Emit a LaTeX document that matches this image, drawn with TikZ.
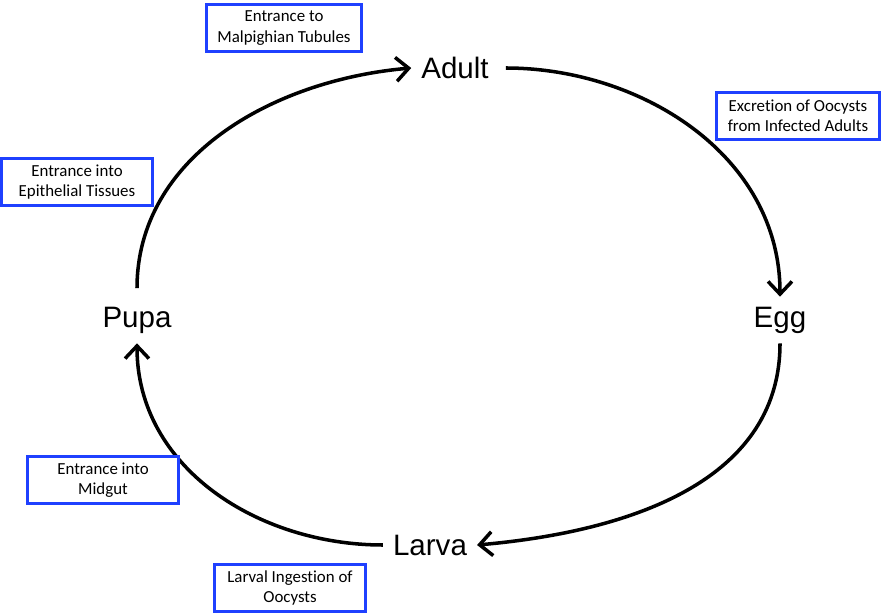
\documentclass[tikz,border=0pt]{standalone}
\usepackage{fontspec}
\setmainfont{Liberation Sans}
\newfontfamily\notefont[Ligatures=NoCommon]{Carlito}
\usepackage{tikz}
\usetikzlibrary{arrows.meta}

\definecolor{noteblue}{RGB}{31,64,255}

\tikzset{
    stage/.style={font=\fontsize{21}{25}\selectfont, inner sep=7pt},
    note/.style={draw=noteblue, line width=2pt, align=center, fill=white,
        font=\notefont\fontsize{12}{14.4}\selectfont,
        inner xsep=8pt, inner ysep=3pt, minimum width=107pt, minimum height=33pt},
    cycle/.style={line width=2.5pt, -{Straight Barb[length=9pt,width=17pt,line width=2.5pt]}}
}

\begin{document}
\begin{tikzpicture}

            \useasboundingbox (0,0) rectangle (22.15,15.375);

            % life stages
            \node[stage] (adult) at (11.375, 13.675) {Adult};
            \node[stage] (egg)   at (19.5, 7.375)    {Egg};
            \node[stage] (larva) at (10.75, 1.75)    {Larva};
            \node[stage] (pupa)  at (3.425, 7.375)   {Pupa};

            % the cycle
            \draw[cycle, shorten <=6pt] (pupa.north) to[out=90, in=185] (adult.west);
            \draw[cycle, shorten <=5pt] (adult.east) to[out=0, in=90] (egg.north);
            \draw[cycle] (egg.south) to[out=-90, in=5] (larva.east);
            \draw[cycle] (larva.west) to[out=180, in=-90] (pupa.south);

            % what happens at each step
            \node[note] (malpighian) at (7.1, 14.675)  {Entrance to\\Malpighian Tubules};
            \node[note] (excretion)  at (19.95, 12.475) {Excretion of Oocysts\\from Infected Adults};
            \node[note] (epithelial) at (1.925, 10.825) {Entrance into\\Epithelial Tissues};
            \node[note] (midgut)     at (2.575, 3.375)  {Entrance into\\Midgut};
            \node[note] (ingestion)  at (7.25, 0.675)   {Larval Ingestion of\\Oocysts};

\end{tikzpicture}
\end{document}
